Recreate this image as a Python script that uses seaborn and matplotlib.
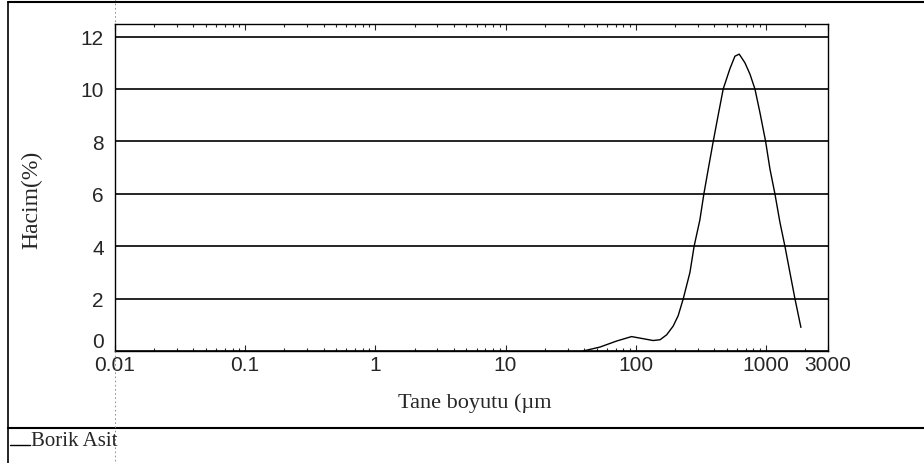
import numpy as np
import pandas as pd
import matplotlib
matplotlib.use("Agg")
import matplotlib.pyplot as plt
from matplotlib.lines import Line2D
import seaborn as sns

# ---- data ----
size_um = [39.5, 53.1, 71.3, 92.9, 114, 136, 154, 173, 194, 212, 232, 261, 281,
           311, 334, 361, 394, 430, 470, 529, 578, 624, 690, 754, 824, 900, 995,
           1074, 1173, 1281, 1400, 1529, 1671, 1858]
volume_pct = [0.0, 0.15, 0.38, 0.55, 0.47, 0.40, 0.43, 0.62, 0.95, 1.35, 2.0, 3.0, 4.0,
              5.0, 6.0, 6.95, 8.0, 9.0, 10.0, 10.77, 11.25, 11.33, 11.0, 10.57, 10.0, 9.1, 8.0,
              6.95, 6.0, 4.92, 4.0, 3.0, 2.0, 0.9]
series_name = "Borik Asit"
x_ticks = [0.01, 0.1, 1, 10, 100, 1000, 3000]
x_tick_labels = ["0.01", "0.1", "1", "10", "100", "1000", "3000"]
y_ticks = [0, 2, 4, 6, 8, 10, 12]
x_label = "Tane boyutu (µm"
y_label = "Hacim(%)"

df = pd.DataFrame({"size": size_um, "vol": volume_pct})

sns.set_style("white")
plt.rcParams["font.family"] = ["Liberation Sans", "DejaVu Sans"]

fig = plt.figure(figsize=(9.24, 4.64), dpi=100)
ax = fig.add_axes([115 / 924, (464 - 352) / 464, (828 - 115) / 924, (352 - 25) / 464])

sns.lineplot(data=df, x="size", y="vol", ax=ax, color="black", linewidth=1.0,
             legend=False)

ax.set_xscale("log")
ax.set_xlim(0.01, 3000)
ax.set_ylim(0, 12.48)
ax.set_xticks(x_ticks)
ax.set_xticklabels(x_tick_labels)
ax.set_yticks(y_ticks)
ax.set_yticklabels([str(v) for v in y_ticks])

for v in y_ticks:
    ax.axhline(v, color="black", linewidth=1.2, zorder=1)

for s in ax.spines.values():
    s.set_color("black")
    s.set_linewidth(1.0)

ax.tick_params(axis="y", which="both", length=0, pad=8, labelsize=15)
ax.tick_params(axis="x", which="major", length=4, direction="in", top=True,
               bottom=True, pad=3, labelsize=15, width=0.8)
ax.tick_params(axis="x", which="minor", length=2.5, direction="in", top=True,
               bottom=True, width=0.8)

# the "0" label sits just above the axis line in the reference
ax.get_yticklabels()[0].set_verticalalignment("bottom")

ax.set_xlabel(x_label, family=["Liberation Serif", "DejaVu Serif"], fontsize=16)
ax.set_ylabel(y_label, family=["Liberation Serif", "DejaVu Serif"], fontsize=17)
ax.yaxis.set_label_coords(-0.102, 0.465)
ax.xaxis.set_label_coords(0.505, -0.125)

# outer frame lines of the page
W, H = 924, 464
def fx(px):
    return px / W
def fy(py):
    return 1 - py / H
fig.add_artist(Line2D([fx(8), fx(8)], [fy(3), fy(464)], color="black", linewidth=1.2))
fig.add_artist(Line2D([fx(8), 1.0], [fy(3), fy(3)], color="black", linewidth=1.5))
fig.add_artist(Line2D([fx(8), 1.0], [fy(429), fy(429)], color="black", linewidth=1.5))
fig.add_artist(Line2D([fx(115), fx(115)], [fy(0), fy(25)], color="gray", linewidth=0.6,
                      linestyle=(0, (2, 3))))
fig.add_artist(Line2D([fx(115), fx(115)], [fy(352), fy(464)], color="gray", linewidth=0.6,
                      linestyle=(0, (2, 3))))

# legend entry
fig.add_artist(Line2D([fx(10), fx(30)], [fy(446), fy(446)], color="black", linewidth=1.0))
fig.text(fx(31), fy(442), series_name, family=["Liberation Serif", "DejaVu Serif"],
         fontsize=15, va="center", ha="left")

fig.savefig("out.png", dpi=100, facecolor="white")
